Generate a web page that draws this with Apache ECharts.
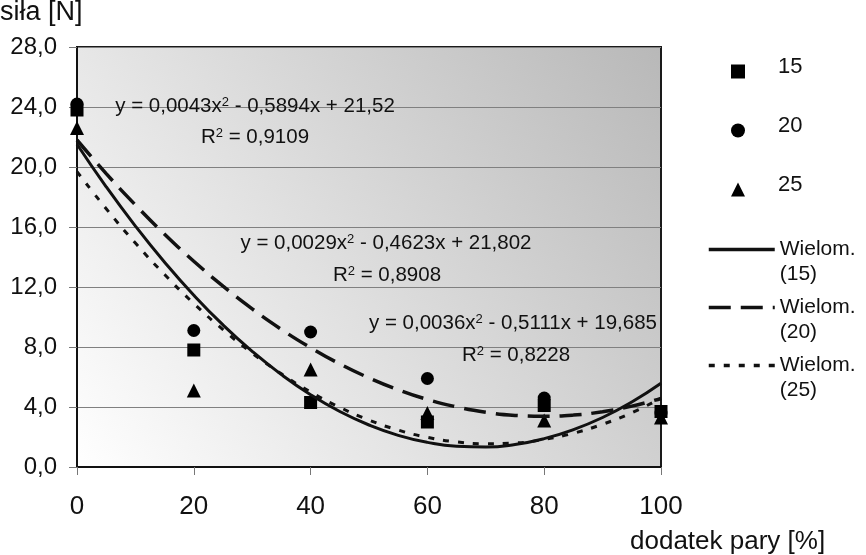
<!DOCTYPE html>
<html>
<head>
<meta charset="utf-8">
<script src="https://cdn.jsdelivr.net/npm/echarts@6/dist/echarts.min.js"></script>
<style>html,body{margin:0;padding:0;background:#fff;}#c{width:866px;height:555px;}</style>
</head>
<body>
<div id="c"></div>
<script>
// ---- data ----
var xPoints = [0, 20, 40, 60, 80, 100];
var s15 = [23.8, 7.8, 4.3, 3.0, 4.1, 3.7];
var s20 = [24.2, 9.1, 9.0, 5.9, 4.6, 3.6];
var s25 = [22.6, 5.1, 6.5, 3.6, 3.1, 3.3];

var xTrend = [0, 5, 10, 15, 20, 25, 30, 35, 40, 45, 50, 55, 60, 65, 70, 75, 80, 85, 90, 95, 100];
var t15 = [21.52, 18.68, 16.06, 13.65, 11.45, 9.47, 7.71, 6.16, 4.82, 3.70, 2.80, 2.11, 1.64, 1.38, 1.33, 1.50, 1.89, 2.49, 3.30, 4.33, 5.58];
var t20 = [21.80, 19.56, 17.47, 15.52, 13.72, 12.06, 10.54, 9.17, 7.95, 6.87, 5.94, 5.15, 4.50, 4.01, 3.65, 3.44, 3.38, 3.46, 3.69, 4.06, 4.57];
var t25 = [19.69, 17.22, 14.93, 12.83, 10.90, 9.16, 7.59, 6.21, 5.00, 3.98, 3.13, 2.46, 1.98, 1.67, 1.55, 1.60, 1.84, 2.25, 2.85, 3.62, 4.58];

var seriesNames = ['15', '20', '25'];
var trendNames = ['Wielom. (15)', 'Wielom. (20)', 'Wielom. (25)'];
var eqLines = [
  ['y = 0,0043x{s|2} - 0,5894x + 21,52', 'R{s|2} = 0,9109'],
  ['y = 0,0029x{s|2} - 0,4623x + 21,802', 'R{s|2} = 0,8908'],
  ['y = 0,0036x{s|2} - 0,5111x + 19,685', 'R{s|2} = 0,8228']
];
var xAxisTitle = 'dodatek pary [%]';
var yAxisTitle = 'siła [N]';

function pairs(xs, ys) { return xs.map(function (x, i) { return [x, ys[i]]; }); }

var FONT = 'Liberation Sans, Arial, sans-serif';
var chart = echarts.init(document.getElementById('c'), null, { renderer: 'canvas' });

var eqPos = [[255, 106, 255, 137], [386, 243, 387, 275], [513, 323, 516, 355]];
var graphics = [];
eqLines.forEach(function (ln, i) {
  var p = eqPos[i];
  [0, 1].forEach(function (k) {
    graphics.push({
      type: 'text', x: p[k * 2], y: p[k * 2 + 1], z: 50,
      style: {
        text: ln[k], fill: '#111', font: '20.5px ' + FONT,
        align: 'center', verticalAlign: 'middle',
        rich: { s: { fontSize: 13, fontFamily: FONT, verticalAlign: 'top', padding: [0, 0, 8, 0], fill: '#111' } }
      }
    });
  });
});
graphics.push({ type: 'text', x: 0, y: 13, style: { text: yAxisTitle, fill: '#111', font: '27px ' + FONT, verticalAlign: 'middle' } });
graphics.push({ type: 'text', x: 630, y: 542, style: { text: xAxisTitle, fill: '#111', font: '26px ' + FONT, verticalAlign: 'middle' } });

var option = {
  animation: false,
  backgroundColor: '#ffffff',
  textStyle: { fontFamily: FONT },
  grid: {
    left: 77, right: 205, top: 47, bottom: 88, show: true,
    backgroundColor: new echarts.graphic.LinearGradient(0, 1, 1, 0, [
      { offset: 0, color: '#ffffff' }, { offset: 1, color: '#b8b8b8' }
    ]),
    borderColor: '#1a1a1a', borderWidth: 2
  },
  xAxis: {
    type: 'value', min: 0, max: 100, interval: 20,
    axisLine: { lineStyle: { color: '#111', width: 2 } },
    axisTick: { show: true, length: 8, lineStyle: { color: '#777', width: 1 } },
    splitLine: { show: false },
    axisLabel: { fontSize: 26, color: '#111', margin: 27, fontFamily: FONT }
  },
  yAxis: {
    type: 'value', min: 0, max: 28, interval: 4,
    axisLine: { show: true, lineStyle: { color: '#111', width: 2 } },
    axisTick: { show: true, length: 8, lineStyle: { color: '#777', width: 1 } },
    splitLine: { show: true, lineStyle: { color: '#808080', width: 1 } },
    axisLabel: { fontSize: 24, color: '#111', margin: 20, fontFamily: FONT,
      formatter: function (v) { return v.toFixed(1).replace('.', ','); } }
  },
  legend: [
    {
      data: seriesNames, orient: 'vertical', left: 731, top: 56, padding: 0,
      itemWidth: 14, itemHeight: 14, itemGap: 27,
      formatter: function (n) { return '{a|' + n + '}\n{b|}'; },
      textStyle: { color: '#111', padding: [0, 0, 0, 28], fontFamily: FONT,
        rich: { a: { fontSize: 22, lineHeight: 24, fontFamily: FONT, color: '#111' }, b: { fontSize: 9, lineHeight: 9 } } }
    },
    {
      data: trendNames, orient: 'vertical', left: 707, top: 212, padding: 0,
      itemWidth: 66, itemHeight: 14, itemGap: -17,
      itemStyle: { opacity: 0 },
      lineStyle: { width: 3.5 },
      formatter: function (n) { return '\n' + n.replace(' ', '\n'); },
      textStyle: { fontSize: 21, color: '#111', lineHeight: 25, fontFamily: FONT }
    }
  ],
  graphic: graphics,
  series: [
    { name: '15', type: 'scatter', symbol: 'rect', symbolSize: 13, data: pairs(xPoints, s15), itemStyle: { color: '#000', opacity: 1 }, z: 3 },
    { name: '20', type: 'scatter', symbol: 'circle', symbolSize: 13, data: pairs(xPoints, s20), itemStyle: { color: '#000', opacity: 1 }, z: 3 },
    { name: '25', type: 'scatter', symbol: 'triangle', symbolSize: 14, data: pairs(xPoints, s25), itemStyle: { color: '#000', opacity: 1 }, z: 3 },
    { name: 'Wielom. (15)', type: 'line', smooth: true, symbol: 'circle', showSymbol: false, data: pairs(xTrend, t15),
      lineStyle: { color: '#111', width: 3, type: 'solid' }, itemStyle: { color: '#111' }, z: 4 },
    { name: 'Wielom. (20)', type: 'line', smooth: true, symbol: 'circle', showSymbol: false, data: pairs(xTrend, t20),
      lineStyle: { color: '#111', width: 3.5, type: [22, 10] }, itemStyle: { color: '#111' }, z: 4 },
    { name: 'Wielom. (25)', type: 'line', smooth: true, symbol: 'circle', showSymbol: false, data: pairs(xTrend, t25),
      lineStyle: { color: '#111', width: 3, type: [6, 9] }, itemStyle: { color: '#111' }, z: 4 }
  ]
};
chart.setOption(option);
</script>
</body>
</html>
